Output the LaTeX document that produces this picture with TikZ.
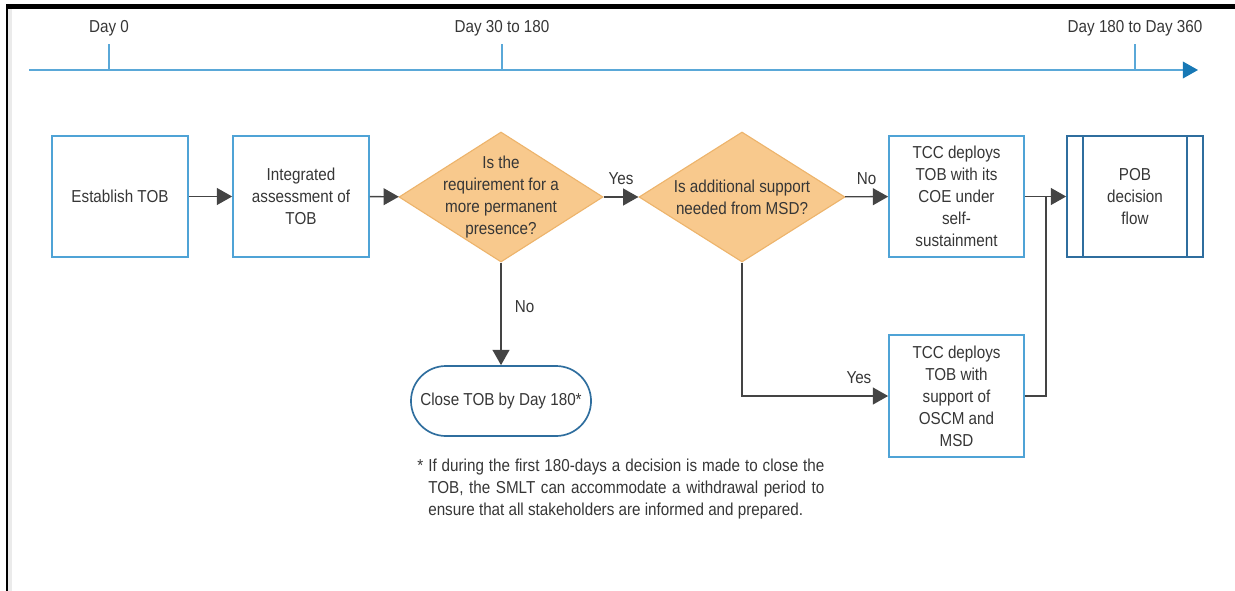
\documentclass[tikz,border=0pt]{standalone}
\usepackage{fontspec}
\setmainfont{Liberation Sans}[FakeStretch=0.88]
\usetikzlibrary{arrows.meta,shapes.geometric,shapes.misc,positioning}

\definecolor{boxblue}{HTML}{4FA3D6}
\definecolor{darkblue}{HTML}{2F6E9E}
\definecolor{qfill}{HTML}{F8C98D}
\definecolor{qline}{HTML}{EDB46C}
\definecolor{lineblue}{HTML}{5AA8D8}
\definecolor{tipblue}{HTML}{1778B5}
\definecolor{txt}{HTML}{363636}
\definecolor{conn}{HTML}{444444}

\begin{document}
\begin{tikzpicture}[x=0.025cm, y=-0.025cm,
    font=\fontsize{12.3}{15.65}\selectfont, text=txt,
    box/.style={draw=boxblue, line width=1.2pt, minimum width=3.4cm, minimum height=3.025cm, align=center, inner sep=0},
    question/.style={diamond, draw=qline, fill=qfill, line width=0.8pt, minimum width=5.1cm, minimum height=3.25cm, inner sep=0},
    flow/.style={draw=conn, line width=1pt, -{Triangle[length=0.38cm, width=0.42cm]}},
    plain/.style={draw=conn, line width=1pt}]
        \useasboundingbox (0,0) rectangle (1235,591);

        % Frame
        \fill[black!8] (8,9) rectangle (12,591);
        \fill[black] (6,4) rectangle (1235,9);
        \fill[black] (6,4) rectangle (8,591);

        % Timeline
        \coordinate (tstart) at (29,70);
        \coordinate (tend) at (1198,70);
        \draw[lineblue, line width=1pt, -{Triangle[length=0.38cm, width=0.42cm, color=tipblue]}] (tstart) -- (tend);
        \foreach \x/\lbl/\nm in {109/Day 0/d0, 502/Day 30 to 180/d30, 1135/Day 180 to Day 360/d180} {
            \coordinate (\nm) at (\x,70);
            \draw[lineblue, line width=1pt] (\nm) -- ++(0,-26);
            \node (\nm lbl) at (\x,28) {\lbl};
        }

        % Steps
        \node[box] (est) at (120,196.5) {Establish TOB};
        \node[box] (assess) at (301,196.5) {Integrated\\assessment of\\TOB};
        \node[question, label={[align=center]center:Is the\\requirement for a\\more permanent\\presence?}] (perm) at (501,197) {};
        \node[question, minimum width=5.15cm, label={[align=center]center:Is additional support\\needed from MSD?}] (support) at (742,197) {};
        \node[box, minimum width=3.375cm] (self) at (956.5,196.5) {TCC deploys\\TOB with its\\COE under\\self-\\sustainment};
        \node[box, minimum width=3.375cm, minimum height=3.05cm] (oscm) at (956.5,396) {TCC deploys\\TOB with\\support of\\OSCM and\\MSD};
        \node[box, draw=darkblue] (pob) at (1135,196.5) {POB\\decision\\flow};
        \draw[darkblue, line width=1.2pt] ([xshift=0.425cm]pob.north west) -- ([xshift=0.425cm]pob.south west);
        \draw[darkblue, line width=1.2pt] ([xshift=-0.425cm]pob.north east) -- ([xshift=-0.425cm]pob.south east);
        \node[rounded rectangle, draw=darkblue, line width=1.2pt, minimum width=4.5cm, minimum height=1.75cm, inner sep=0] (close) at (501,401) {Close TOB by Day 180*};
        \coordinate (join) at (1046,196.5);

        % Connectors
        \draw[flow] (est) -- (assess);
        \draw[flow] (assess) -- (perm);
        \draw[flow] (perm) -- node[above=5pt] {Yes} (support);
        \draw[flow] (support) -- node[above=5pt] {No} (self);
        \draw[plain] (self) -- (join);
        \draw[flow] (join) -- (pob);
        \draw[plain] (oscm.east) -| (join);
        \draw[flow] (support.south) |- node[above=5pt, pos=0.9] {Yes} (oscm.west);
        \draw[flow] (perm.south) -- node[right=6pt, pos=0.43] {No} (close.north);

        % Footnote
        \node[anchor=north west, text width=10.175cm, align=justify, inner sep=0] (note) at (417,459)
            {\noindent\hangindent=0.275cm \hangafter=1 \makebox[0.275cm][l]{*}If during the first 180-days a decision is made to close the\linebreak
             TOB, the SMLT can accommodate a withdrawal period to\linebreak
             ensure that all stakeholders are informed and prepared.\par};
      \end{tikzpicture}
\end{document}
